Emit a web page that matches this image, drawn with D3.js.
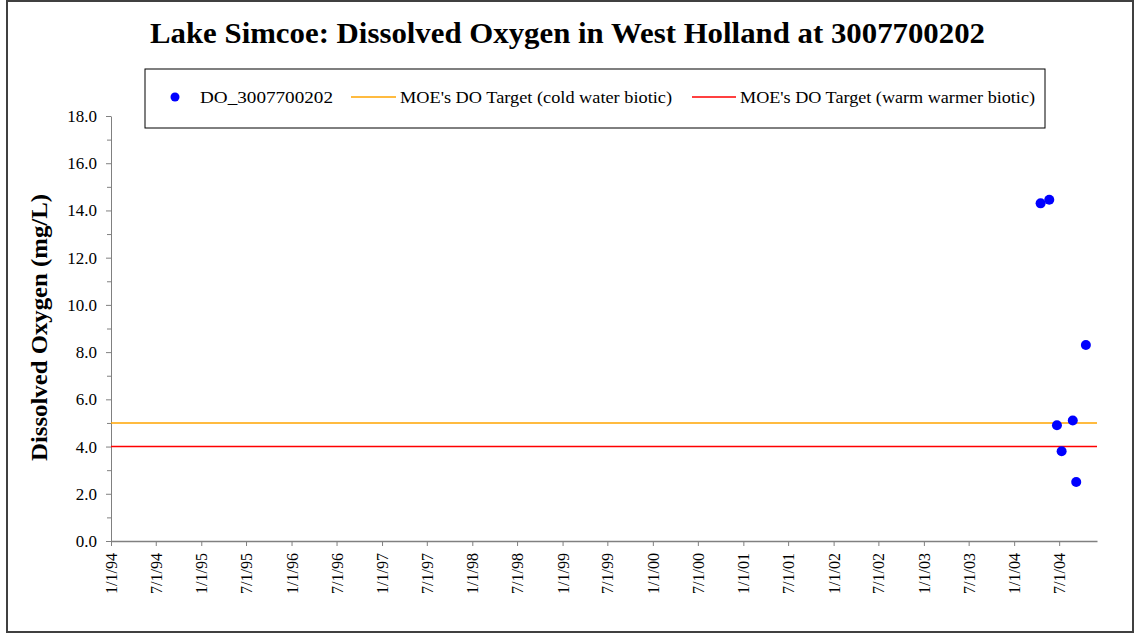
<!DOCTYPE html>
<meta charset="utf-8">
<script src="https://d3js.org/d3.v7.min.js"></script>
<style>
  body { margin: 0; background: #fff; }
  text { font-family: "Liberation Serif", "Times New Roman", serif; fill: #000; }
</style>
<div id="chart"></div>
<script>
// sample dates and dissolved oxygen (mg/L)
var sampleDates = ["2004-04-17", "2004-05-22", "2004-06-22", "2004-07-11", "2004-08-25", "2004-09-08", "2004-10-17"];
var doValues = [14.3, 14.45, 4.9, 3.8, 5.1, 2.5, 8.3];

var coldTarget = 5.0;   // MOE's DO target, cold water biotic
var warmTarget = 4.0;   // MOE's DO target, warm warmer biotic

var yTicks = [0, 2, 4, 6, 8, 10, 12, 14, 16, 18];
var xStart = "1994-01-01", xEnd = "2004-12-01";

var seriesNames = ["DO_3007700202", "MOE's DO Target (cold water biotic)", "MOE's DO Target (warm warmer biotic)"];

var W = 1135, H = 634;
var margin = {left: 111, right: 38, top: 116, bottom: 93};

var parse = d3.timeParse("%Y-%m-%d");
var points = sampleDates.map((d, i) => ({date: parse(d), value: doValues[i]}));

var svg = d3.select("#chart").append("svg")
    .attr("width", W).attr("height", H);

// outer frame
svg.append("rect")
    .attr("x", 7).attr("y", 1).attr("width", 1126).attr("height", 631)
    .attr("fill", "#fff").attr("stroke", "#404040").attr("stroke-width", 2);

var x = d3.scaleTime()
    .domain([parse(xStart), parse(xEnd)])
    .range([margin.left, W - margin.right]);

var y = d3.scaleLinear()
    .domain([0, 18])
    .range([H - margin.bottom, margin.top]);

var fmtDate = d => (d.getMonth() + 1) + "/" + d.getDate() + "/" + String(d.getFullYear()).slice(2);

// title (the original is drawn a little narrower than the font)
svg.append("text")
    .attr("x", 150).attr("y", 43)
    .attr("textLength", 835).attr("lengthAdjust", "spacingAndGlyphs")
    .style("font-size", "29px").style("font-weight", "bold")
    .text("Lake Simcoe: Dissolved Oxygen in West Holland at 3007700202");

// y axis title
svg.append("text")
    .attr("transform", "translate(47,461) rotate(-90)")
    .attr("textLength", 267).attr("lengthAdjust", "spacingAndGlyphs")
    .style("font-size", "24px").style("font-weight", "bold")
    .text("Dissolved Oxygen (mg/L)");

// minor y ticks
svg.append("g")
    .attr("transform", "translate(" + margin.left + ",0)")
    .call(d3.axisLeft(y).tickValues(d3.range(1, 18, 2)).tickSize(4).tickFormat(""))
    .call(g => g.select(".domain").remove())
    .selectAll("line").attr("stroke", "#808080");

// y axis
var yAxis = svg.append("g")
    .attr("transform", "translate(" + margin.left + ",0)")
    .call(d3.axisLeft(y).tickValues(yTicks).tickSize(5).tickSizeOuter(0).tickPadding(9)
      .tickFormat(d3.format(".1f")));
yAxis.select(".domain").attr("stroke", "#808080");
yAxis.selectAll("line").attr("stroke", "#808080");
yAxis.selectAll("text").style("font-size", "17px").style("font-family", "Liberation Serif, serif");

// x axis
var xAxis = svg.append("g")
    .attr("transform", "translate(0," + (H - margin.bottom) + ")")
    .call(d3.axisBottom(x).ticks(d3.timeMonth.every(6)).tickSize(5).tickSizeOuter(0)
      .tickFormat(fmtDate));
xAxis.select(".domain").attr("stroke", "#808080").attr("stroke-width", 1.5);
xAxis.selectAll("line").attr("stroke", "#808080");
xAxis.selectAll("text")
    .style("font-size", "16px").style("font-family", "Liberation Serif, serif")
    .attr("text-anchor", "end")
    .attr("transform", "rotate(-90)")
    .attr("x", -12).attr("y", 0).attr("dy", "0.35em");

// target lines
svg.append("line")
    .attr("x1", x.range()[0]).attr("x2", x.range()[1])
    .attr("y1", y(coldTarget)).attr("y2", y(coldTarget))
    .attr("stroke", "#FFA500").attr("stroke-width", 1.5);
svg.append("line")
    .attr("x1", x.range()[0]).attr("x2", x.range()[1])
    .attr("y1", y(warmTarget)).attr("y2", y(warmTarget))
    .attr("stroke", "#FF0000").attr("stroke-width", 1.5);

// sample points
svg.append("g").selectAll("circle")
    .data(points)
    .enter().append("circle")
      .attr("cx", d => x(d.date))
      .attr("cy", d => y(d.value))
      .attr("r", 5)
      .attr("fill", "#0000FF");

// legend
var lg = svg.append("g");
lg.append("rect")
    .attr("x", 145).attr("y", 69).attr("width", 900).attr("height", 59)
    .attr("fill", "#fff").attr("stroke", "#000").attr("stroke-width", 1);
var ly = 97;
lg.append("circle").attr("cx", 175).attr("cy", ly).attr("r", 4.5).attr("fill", "#0000FF");
lg.append("text").attr("x", 200).attr("y", ly).attr("dy", "0.35em")
    .attr("textLength", 133).attr("lengthAdjust", "spacingAndGlyphs")
    .style("font-size", "17px").text(seriesNames[0]);
lg.append("line").attr("x1", 351).attr("x2", 396).attr("y1", ly).attr("y2", ly)
    .attr("stroke", "#FFA500").attr("stroke-width", 1.5);
lg.append("text").attr("x", 400).attr("y", ly).attr("dy", "0.35em")
    .attr("textLength", 272).attr("lengthAdjust", "spacingAndGlyphs")
    .style("font-size", "17px").text(seriesNames[1]);
lg.append("line").attr("x1", 692).attr("x2", 736).attr("y1", ly).attr("y2", ly)
    .attr("stroke", "#FF0000").attr("stroke-width", 1.5);
lg.append("text").attr("x", 740).attr("y", ly).attr("dy", "0.35em")
    .attr("textLength", 295).attr("lengthAdjust", "spacingAndGlyphs")
    .style("font-size", "17px").text(seriesNames[2]);
</script>
